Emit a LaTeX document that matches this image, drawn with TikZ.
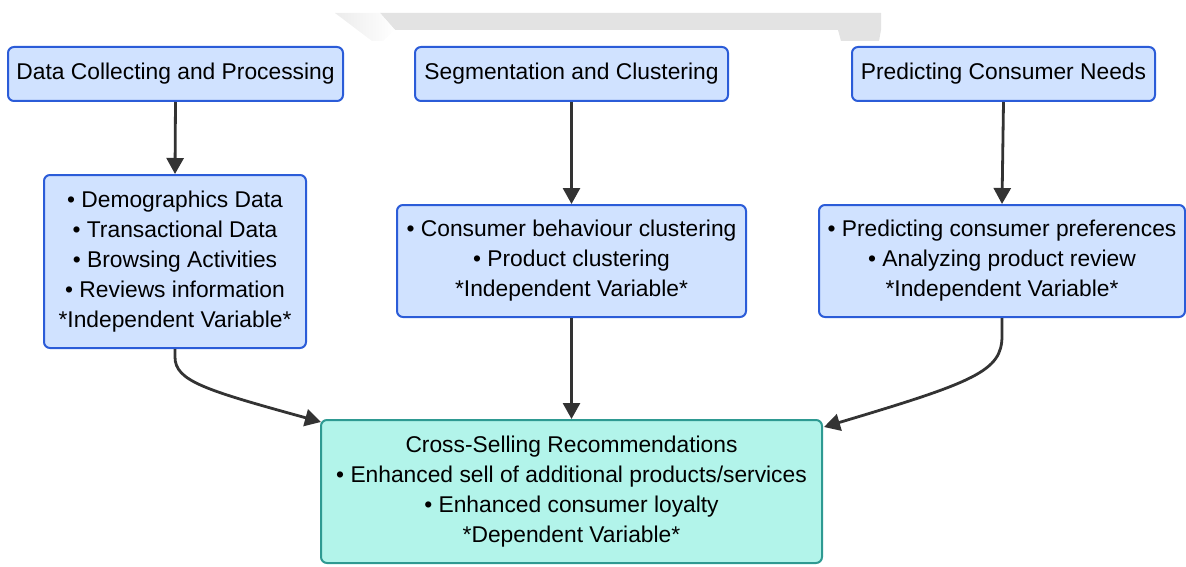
\documentclass[tikz,border=0pt]{standalone}
\usepackage{fontspec}
\setmainfont{Liberation Sans}
\usetikzlibrary{arrows.meta,shadings}
\definecolor{boxblue}{HTML}{D0E2FF}
\definecolor{edgeblue}{HTML}{2B5CD8}
\definecolor{boxteal}{HTML}{B2F4EA}
\definecolor{edgeteal}{HTML}{2E9A92}
\definecolor{linkgray}{HTML}{333333}
\definecolor{bargray}{HTML}{E3E3E3}
\tikzset{
  card/.style={draw, rounded corners=6pt, line width=2pt, align=center,
    inner sep=0pt, font=\fontsize{22.8}{30}\selectfont},
  bluecard/.style={card, fill=boxblue, draw=edgeblue},
  tealcard/.style={card, fill=boxteal, draw=edgeteal},
  link/.style={draw=linkgray, line width=2.8pt,
    -{Triangle[length=16pt,width=17pt]}, color=linkgray}
}
\begin{document}
\begin{tikzpicture}[x=1pt,y=-1pt]
\useasboundingbox (0,0) rectangle (1186,567);
% header band
\fill[bargray] (380,13) -- (881,13) -- (881,30) -- (395,30) -- cycle;
\fill[bargray] (838,30) -- (881,30) -- (879,41) -- (841,41) -- cycle;
\shade[left color=bargray!70, right color=white] (335,13) -- (380,13) -- (395,30) -- (383,41) -- (372,41) -- cycle;
% stage headers
\node[bluecard, minimum width=335, minimum height=54] (dcp) at (175.5,74) {Data Collecting and Processing};
\node[bluecard, minimum width=313, minimum height=54] (sc) at (571.5,74) {Segmentation and Clustering};
\node[bluecard, minimum width=303, minimum height=54] (pcn) at (1003.5,74) {Predicting Consumer Needs};
% independent variables
\node[bluecard, minimum width=262, minimum height=173] (iv1) at (175,261.5)
  {• Demographics Data\\• Transactional Data\\• Browsing Activities\\• Reviews information\\*Independent Variable*};
\node[bluecard, minimum width=349, minimum height=112] (iv2) at (571.5,261)
  {• Consumer behaviour clustering\\• Product clustering\\*Independent Variable*};
\node[bluecard, minimum width=366, minimum height=112] (iv3) at (1002,261)
  {• Predicting consumer preferences\\• Analyzing product review\\*Independent Variable*};
% dependent variable
\node[tealcard, minimum width=501, minimum height=143] (dv) at (571.5,491.5)
  {Cross-Selling Recommendations\\• Enhanced sell of additional products/services\\• Enhanced consumer loyalty\\*Dependent Variable*};
% connectors
\draw[link] (dcp.south) -- (iv1.north);
\draw[link] (sc.south) -- (iv2.north);
\draw[link] (pcn.south) -- (iv3.north);
\draw[link] (iv2.south) -- (dv.north);
\coordinate (dvL) at ([shift={(1,3)}]dv.north west);
\coordinate (dvR) at ([shift={(1,8)}]dv.north east);
\draw[link] (iv1.south) -- ++(0,8) .. controls ++(0,24) and (205,390) .. (dvL);
\draw[link] (iv3.south) -- ++(0,18) .. controls ++(0,35) and (975,382) .. (dvR);
\end{tikzpicture}
\end{document}
